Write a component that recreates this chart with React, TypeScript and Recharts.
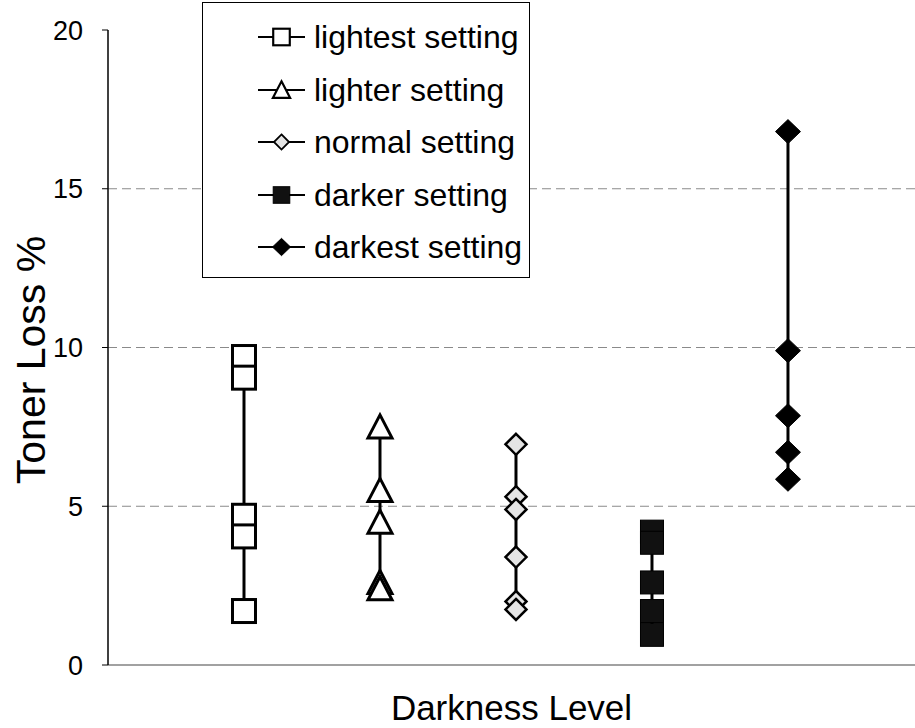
import React from 'react';
import { ComposedChart, Scatter, XAxis, YAxis, CartesianGrid, Legend, Label } from 'recharts';

const seriesNames = ['lightest setting', 'lighter setting', 'normal setting', 'darker setting', 'darkest setting'];
const levelPositions = [1, 2, 3, 4, 5];
const lightestValues = [9.7, 9.05, 4.7, 4.05, 1.7];
const lighterValues = [7.5, 5.5, 4.5, 2.6, 2.4];
const normalValues = [6.95, 5.3, 4.9, 3.4, 2.0, 1.75];
const darkerValues = [4.2, 3.85, 2.6, 1.7, 0.95];
const darkestValues = [16.8, 9.9, 7.85, 6.7, 5.85];
const yTicks = [0, 5, 10, 15, 20];
const gridValues = [5, 10, 15];
const xDomain = [0, 5.934];

const FONT = "'Liberation Sans', Arial, Helvetica, sans-serif";

type Kind = 'openSquare' | 'openTriangle' | 'greyDiamond' | 'blackSquare' | 'blackDiamond';
const kinds: Kind[] = ['openSquare', 'openTriangle', 'greyDiamond', 'blackSquare', 'blackDiamond'];
const valueSets = [lightestValues, lighterValues, normalValues, darkerValues, darkestValues];

function Marker({ kind, cx, cy, s = 1 }: { kind: Kind; cx: number; cy: number; s?: number }) {
  if (cx == null || cy == null) return null;
  switch (kind) {
    case 'openSquare': {
      const h = 11.5 * s;
      return <rect x={cx - h} y={cy - h} width={2 * h} height={2 * h} fill="#fff" stroke="#000" strokeWidth={3 * Math.max(s, 0.7)} />;
    }
    case 'openTriangle': {
      const h = 12 * s;
      return <polygon points={`${cx},${cy - h} ${cx + h},${cy + h * 0.92} ${cx - h},${cy + h * 0.92}`} fill="#fff" stroke="#000" strokeWidth={3 * Math.max(s, 0.7)} strokeLinejoin="miter" />;
    }
    case 'greyDiamond': {
      const h = 10.5 * s;
      return <polygon points={`${cx},${cy - h} ${cx + h},${cy} ${cx},${cy + h} ${cx - h},${cy}`} fill="#e4e4e4" stroke="#000" strokeWidth={2.5 * Math.max(s, 0.7)} />;
    }
    case 'blackSquare': {
      const h = 11.5 * s;
      return <rect x={cx - h} y={cy - h} width={2 * h} height={2 * h} fill="#111" stroke="#000" strokeWidth={1} />;
    }
    case 'blackDiamond': {
      const w = 12.5 * s;
      const h = 12 * s;
      return <polygon points={`${cx},${cy - h} ${cx + w},${cy} ${cx},${cy + h} ${cx - w},${cy}`} fill="#000" stroke="#000" strokeWidth={1} />;
    }
  }
  return null;
}

const LegendBox = (props: any) => {
  const payload = props.payload || [];
  const ordered = seriesNames
    .map((n) => payload.find((p: any) => p.value === n))
    .filter(Boolean);
  return (
    <div
      style={{
        width: 328,
        height: 276,
        border: '1.5px solid #000',
        background: '#fff',
        boxSizing: 'border-box',
        paddingTop: 8,
        fontFamily: FONT,
        fontSize: 32,
        color: '#000',
      }}
    >
      {ordered.map((p: any, i: number) => {
        const idx = seriesNames.indexOf(p.value);
        const kind = kinds[idx >= 0 ? idx : i];
        return (
          <div key={i} style={{ height: 52.5, display: 'flex', alignItems: 'center' }}>
            <svg width={47} height={30} style={{ marginLeft: 55, marginRight: 9, flex: 'none' }}>
              <line x1={0} y1={15} x2={47} y2={15} stroke="#000" strokeWidth={2} />
              <Marker kind={kind} cx={23.5} cy={15} s={0.72} />
            </svg>
            <span style={{ lineHeight: '36px', whiteSpace: 'nowrap' }}>{p.value}</span>
          </div>
        );
      })}
    </div>
  );
};

export default function App() {
  return (
    <div style={{ position: 'absolute', left: 0, top: 0, width: 915, height: 728, background: '#fff' }}>
      <ComposedChart width={915} height={728} margin={{ top: 30, right: 0, bottom: 0, left: 0 }}>
        <CartesianGrid horizontal vertical={false} horizontalValues={gridValues} stroke="#8a8a8a" strokeDasharray="9 5" strokeWidth={1} />
        <XAxis
          type="number"
          dataKey="x"
          domain={xDomain}
          ticks={[]}
          tick={false}
          tickLine={false}
          height={63}
          axisLine={{ stroke: '#444', strokeWidth: 1.2 }}
          allowDataOverflow
        >
          <Label
            content={(lp: any) => {
              const vb = lp.viewBox;
              return (
                <text x={vb.x + vb.width / 2} y={vb.y + 55} textAnchor="middle" fontFamily={FONT} fontSize={35} fill="#000">
                  Darkness Level
                </text>
              );
            }}
          />
        </XAxis>
        <YAxis
          type="number"
          dataKey="y"
          domain={[0, 20]}
          ticks={yTicks}
          interval={0}
          width={108}
          tickSize={6}
          tickMargin={19}
          axisLine={{ stroke: '#000', strokeWidth: 1.5 }}
          tickLine={{ stroke: '#000', strokeWidth: 1 }}
          tick={{ fill: '#000', fontSize: 27, fontFamily: FONT }}
        >
          <Label
            content={(lp: any) => {
              const vb = lp.viewBox;
              const x = vb.x + 45;
              const y = vb.y + vb.height / 2 + 12.5;
              return (
                <text x={x} y={y} transform={`rotate(-90, ${x}, ${y})`} textAnchor="middle" fontFamily={FONT} fontSize={41} fill="#000">
                  Toner Loss %
                </text>
              );
            }}
          />
        </YAxis>
        <Legend
          layout="vertical"
          align="center"
          verticalAlign="middle"
          wrapperStyle={{ left: 202, top: 2, width: 328, height: 276 }}
          content={<LegendBox />}
        />
        {valueSets.map((vals, i) => (
          <Scatter
            key={seriesNames[i]}
            name={seriesNames[i]}
            data={vals.map((v) => ({ x: levelPositions[i], y: v }))}
            fill="#000"
            line={{ stroke: '#000', strokeWidth: 3 }}
            lineType="joint"
            isAnimationActive={false}
            shape={(p: any) => <Marker kind={kinds[i]} cx={p.cx} cy={p.cy} />}
          />
        ))}
      </ComposedChart>
    </div>
  );
}
